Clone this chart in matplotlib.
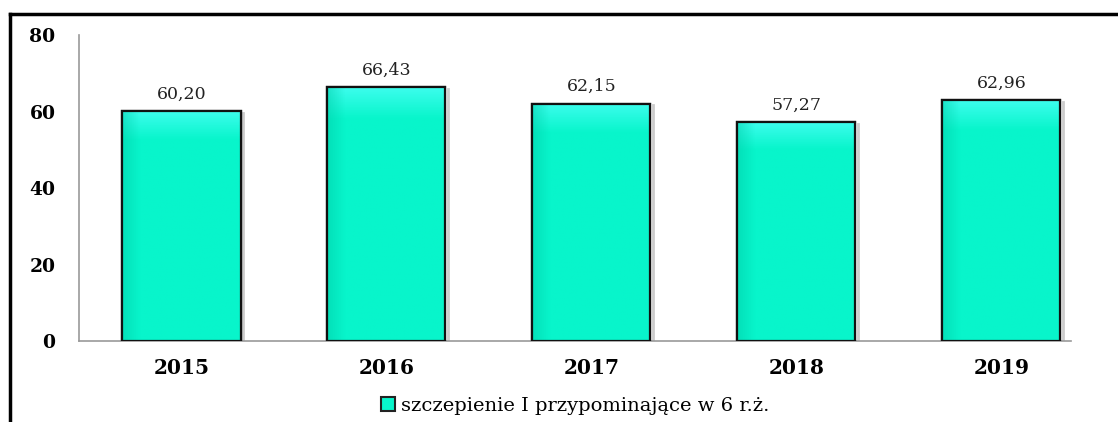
import numpy as np
import matplotlib
matplotlib.use("Agg")
import matplotlib.pyplot as plt
from matplotlib.lines import Line2D
from matplotlib.patches import Patch

years = ["2015", "2016", "2017", "2018", "2019"]
values = [60.20, 66.43, 62.15, 57.27, 62.96]
value_labels = ["60,20", "66,43", "62,15", "57,27", "62,96"]
yticks = [0, 20, 40, 60, 80]
legend_label = "szczepienie I przypominające w 6 r.ż."

W, H = 1118, 422
fig = plt.figure(figsize=(W / 100, H / 100), dpi=100)
fig.patch.set_facecolor("white")

left, right_px, top_px, bottom_px = 79, 1071, 35.4, 341
ax = fig.add_axes([left / W, (H - bottom_px) / H, (right_px - left) / W, (bottom_px - top_px) / H])

serif = ["DejaVu Serif"]
base = "#08F5CB"
x = np.arange(len(years))
bars = ax.bar(x, values, width=0.576, color=base, edgecolor="#111111", linewidth=1.6, zorder=3)

# gradient overlay per bar (bevel look)
ny, nx = 100, 60
gy = np.linspace(0, 1, ny)[:, None]
gx = np.linspace(0, 1, nx)[None, :]
c0 = np.array(matplotlib.colors.to_rgb(base))
light = np.array([0.30, 1.0, 0.97])
dark = np.array([0.0, 0.80, 0.66])
img = np.ones((ny, nx, 3)) * c0
topw = np.clip(1 - gy / 0.12, 0, 1)
img = img * (1 - topw[..., None] * 0.75) + light * topw[..., None] * 0.75
leftw = np.clip(1 - gx / 0.15, 0, 1)
img = img * (1 - leftw[..., None] * 0.5) + dark * leftw[..., None] * 0.5
img = np.clip(img, 0, 1)
for b in bars:
    x0, y0, w, h = b.get_x(), b.get_y(), b.get_width(), b.get_height()
    im = ax.imshow(img, extent=[x0, x0 + w, y0, y0 + h], aspect="auto", zorder=3.5, origin="upper")
    im.set_clip_path(b)
    ax.bar(x0 + w / 2, h, width=w, bottom=y0, fill=False, edgecolor="#111111", linewidth=1.6, zorder=4)
    ax.plot([x0 + w + 0.012, x0 + w + 0.012], [y0, y0 + h - 0.5], color="#cccccc", lw=2.0, zorder=2.5)

for xi, v, lab in zip(x, values, value_labels):
    ax.text(xi, v + 2.2, lab, ha="center", va="bottom", fontsize=12.5, family=serif, color="#222222")

ax.set_xlim(-0.5, 4.34)
ax.set_ylim(0, 80)
ax.set_yticks(yticks)
ax.set_yticklabels([str(t) for t in yticks], fontsize=13.5, fontweight="bold", family=serif)
ax.set_xticks(x)
ax.set_xticklabels(years, fontsize=14.5, fontweight="bold", family=serif)
ax.tick_params(axis="both", length=0)
ax.tick_params(axis="y", pad=17)
ax.tick_params(axis="x", pad=12)
for s in ["top", "right"]:
    ax.spines[s].set_visible(False)
for s in ["left", "bottom"]:
    ax.spines[s].set_color("#999999")
    ax.spines[s].set_linewidth(1.2)

handle = Patch(facecolor=base, edgecolor="#222222", linewidth=1.5)
fig.legend([handle], [legend_label], loc="center", bbox_to_anchor=(575 / W, 1 - 406 / H),
           frameon=False, prop={"family": serif, "size": 14}, handlelength=0.7, handleheight=0.7,
           handletextpad=0.3)

fig.add_artist(Line2D([10 / W, 1.0], [1 - 14 / H, 1 - 14 / H], color="black", lw=2.5, transform=fig.transFigure))
fig.add_artist(Line2D([10 / W, 10 / W], [0, 1 - 14 / H], color="black", lw=2.5, transform=fig.transFigure))

fig.savefig("out.png", dpi=100)
